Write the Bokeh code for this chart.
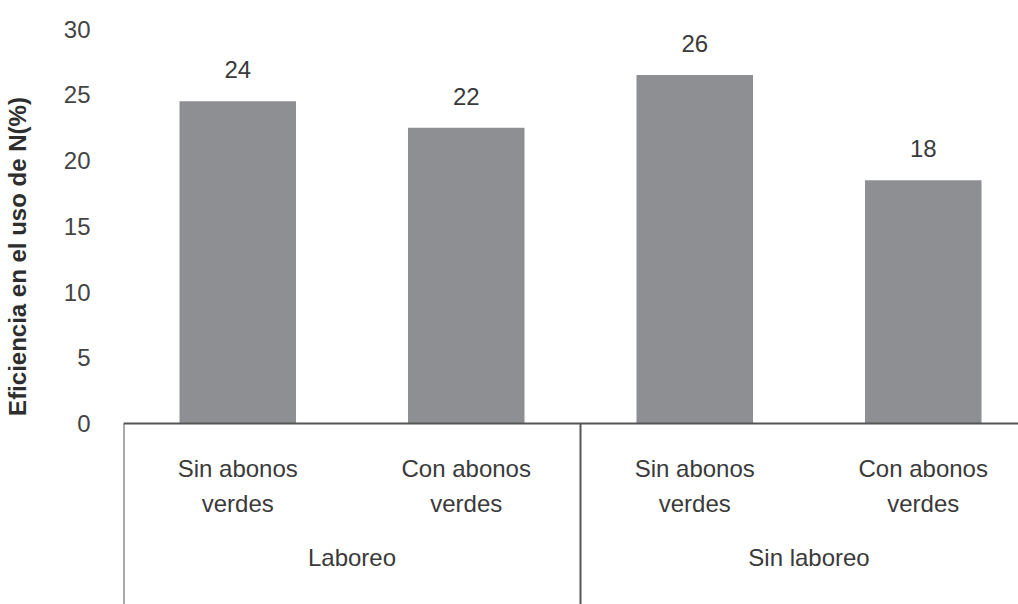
import math
from bokeh.plotting import figure
from bokeh.layouts import row
from bokeh.models import Range1d, FixedTicker, ColumnDataSource
from bokeh.core.properties import value
from bokeh.embed import file_html
from bokeh.resources import INLINE

# ---- data ----
categories = ["Sin abonos\nverdes", "Con abonos\nverdes", "Sin abonos\nverdes", "Con abonos\nverdes"]
groups = ["Laboreo", "Sin laboreo"]
group_of = [0, 0, 1, 1]
values = [24.5, 22.5, 26.5, 18.5]
value_labels = ["24", "22", "26", "18"]
y_ticks = [0, 5, 10, 15, 20, 25, 30]
y_title = "Eficiencia en el uso de N(%)"

FONT = "Liberation Sans"
BAR = "#8e8f93"
LINE = "#555555"
TXT = "#3a3a3a"

W, H = 1018, 604
TITLE_W = 60            # width of the strip holding the axis title
LEFT = 63               # room for tick labels inside main figure
PX_X = 228.5            # pixels per category
PX_Y = 13.15            # pixels per unit
ZERO_PX = 423           # pixel row of y = 0

MAIN_W = W - TITLE_W
x_end = (MAIN_W - LEFT) / PX_X
y_range = Range1d(-(H - ZERO_PX) / PX_Y, ZERO_PX / PX_Y)
y_bot = y_range.start

# ---- strip with the y-axis title ----
t = figure(width=TITLE_W, height=H, output_backend="svg", toolbar_location=None,
           x_range=Range1d(0, TITLE_W), y_range=y_range,
           x_axis_location=None, y_axis_location=None,
           min_border_left=0, min_border_right=0, min_border_top=0, min_border_bottom=0)
t.outline_line_color = None
t.xgrid.visible = False
t.ygrid.visible = False
t.text(x=[17], y=[(ZERO_PX - 256) / PX_Y], text=[y_title], angle=math.pi / 2,
       text_align="center", text_baseline="middle", text_font=value(FONT),
       text_font_size="24px", text_font_style="bold", text_color="#2e2e2e")

# ---- main chart ----
p = figure(width=MAIN_W, height=H, output_backend="svg", toolbar_location=None,
           x_range=Range1d(0, x_end), y_range=y_range,
           x_axis_location=None, min_border_left=LEFT, min_border_right=0,
           min_border_top=0, min_border_bottom=0)
p.outline_line_color = None
p.xgrid.visible = False
p.ygrid.visible = False

xs = [i + 0.5 for i in range(len(categories))]
src = ColumnDataSource(dict(x=xs, top=values, lab=value_labels, cat=categories,
                            ly=[v + 2.4 for v in values]))

p.vbar(x="x", top="top", bottom=0, width=0.51, source=src, fill_color=BAR, line_color=None)

p.text(x="x", y="ly", text="lab", source=src, text_align="center", text_baseline="middle",
       text_font=value(FONT), text_font_size="24px", text_color=TXT)

p.text(x="x", y=-4.75, text="cat", source=src, text_align="center", text_baseline="middle",
       text_font=value(FONT), text_font_size="24px", text_color=TXT, text_line_height=1.3)

gx = [sum(x for x, g in zip(xs, group_of) if g == k) / group_of.count(k) for k in range(len(groups))]
p.text(x=gx, y=[-10.2] * len(groups), text=groups, text_align="center", text_baseline="middle",
       text_font=value(FONT), text_font_size="24px", text_color=TXT)

p.segment(x0=[0], y0=[0], x1=[x_end], y1=[0], line_color=LINE, line_width=2)
bounds = [0] + [xs[i] - 0.5 for i in range(1, len(xs)) if group_of[i] != group_of[i - 1]]
p.segment(x0=bounds, y0=[0] * len(bounds), x1=bounds, y1=[y_bot] * len(bounds),
          line_color=LINE, line_width=2)

ax = p.yaxis[0]
ax.ticker = FixedTicker(ticks=y_ticks)
ax.axis_line_color = None
ax.major_tick_line_color = None
ax.minor_tick_line_color = None
ax.major_tick_out = 0
ax.major_label_standoff = 33
ax.major_label_text_font = FONT
ax.major_label_text_font_size = "24px"
ax.major_label_text_color = "#444444"

layout = row(t, p, spacing=0)
open("out.html", "w").write(file_html(layout, INLINE))
